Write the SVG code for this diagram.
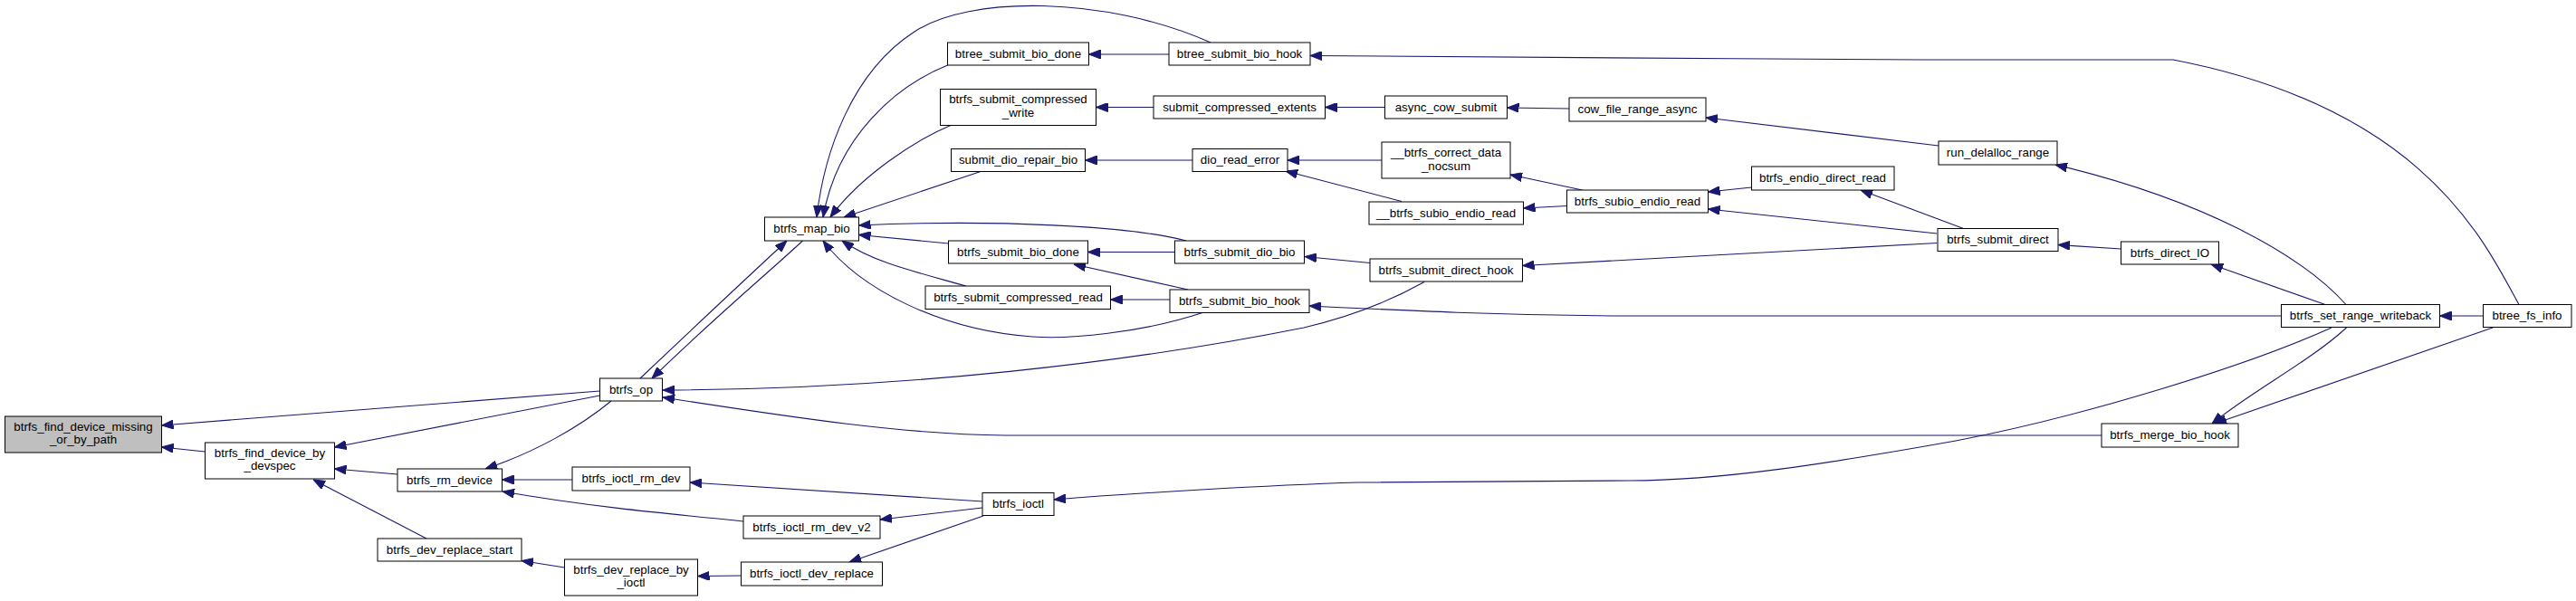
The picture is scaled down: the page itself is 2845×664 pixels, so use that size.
<svg xmlns="http://www.w3.org/2000/svg" width="2845" height="664" viewBox="0 0 2845 664">
<defs>
<style>
.n rect{fill:#ffffff;stroke:#000000;stroke-width:1}
.n.g rect{fill:#bfbfbf}
.n text{font-family:"Liberation Sans",Arial,sans-serif;font-size:13.33px;fill:#000000;text-anchor:middle}
#edges path{fill:none;stroke:#191970;stroke-width:1.1;marker-end:url(#a)}
</style>
<marker id="a" markerUnits="userSpaceOnUse" markerWidth="13" markerHeight="10" viewBox="0 0 13 10" refX="13" refY="5" orient="auto"><path d="M0,0L13,5L0,10z" fill="#191970" stroke="#191970" stroke-width="1"/></marker>
</defs>
<rect width="2845" height="664" fill="#ffffff"/>
<g id="edges">
<path d="M662.5,432 L178.5,470"/>
<path d="M226.5,499 L178.5,494"/>
<path d="M662.5,437 L369.5,494"/>
<path d="M439,524 L369.5,518"/>
<path d="M471,595 L346,530"/>
<path d="M675,443 C640,472 590,500 536,518"/>
<path d="M632,530 L554.5,530"/>
<path d="M821,576 C720,566 640,558 555,543"/>
<path d="M623.5,627 L576,619.5"/>
<path d="M1085,554 L762,533"/>
<path d="M1085,561 L972,574"/>
<path d="M1086,570 L938,621"/>
<path d="M818.5,636 L770.5,636.5"/>
<path d="M2575,362 C2480,405 2300,460 2160,487 C2020,512 1900,531 1800,531 L1500,533 C1400,536 1250,545 1164,552"/>
<path d="M2321,481 L1110,481 C1000,480 880,462 732,439"/>
<path d="M1573,311.5 C1540,330 1500,348 1440,362 C1250,400 1000,430 732,431"/>
<path d="M707,418 C745,382 800,330 869,266"/>
<path d="M886.5,266 C850,300 790,350 720,418"/>
<path d="M1337,47 C1220,-5 1070,-5 1010,35 C940,80 910,170 902,240"/>
<path d="M1046.5,72 C990,95 925,150 909,240"/>
<path d="M1051,138 C1010,155 950,195 917,240"/>
<path d="M1083,189.5 L932,240"/>
<path d="M1310,266 C1250,250 1100,242 948.5,249"/>
<path d="M1047.5,269 L948.5,259.5"/>
<path d="M1067,316 C1010,300 965,290 930,266"/>
<path d="M1328,345.5 C1260,368 1180,375 1140,372 C1040,365 950,320 909,266"/>
<path d="M1291,60 L1202.5,60"/>
<path d="M1274,118.5 L1210.5,118.5"/>
<path d="M1317,177 L1198.5,177"/>
<path d="M1297.5,278.5 L1201.5,278.5"/>
<path d="M1312,320 L1186,292"/>
<path d="M1292,331 L1226.5,331"/>
<path d="M1529.5,118.5 L1463.5,118.5"/>
<path d="M1733,120 L1664.5,119"/>
<path d="M2141,161 L1884,130"/>
<path d="M1526,177 L1422,177"/>
<path d="M1548,222.5 L1420,189"/>
<path d="M1747.5,210 L1668,193"/>
<path d="M1730.5,227.5 L1682.5,230"/>
<path d="M1934.5,207 L1886.5,212"/>
<path d="M2139,258 L1886.5,231"/>
<path d="M2168.5,252.5 L2055,210"/>
<path d="M2139,268.5 L1681.5,293.5"/>
<path d="M1513,290.5 L1441,283.5"/>
<path d="M2342.5,275 L2273,270.5"/>
<path d="M2568,336.5 L2442,292"/>
<path d="M2591,336.5 C2540,280 2430,220 2270,182"/>
<path d="M2782,336.5 C2745,270 2680,120 2400,66 L2125,66 C1900,65 1700,63 1447,61.5"/>
<path d="M2742.5,349 L2694.5,349"/>
<path d="M2519.5,349 L1784,349 C1650,348 1550,343 1446,338"/>
<path d="M2591.5,362 C2550,400 2490,430 2443,468"/>
<path d="M2753,362 L2446,468"/>
</g>
<g id="n0" class="n g"><rect x="5.5" y="460" width="173" height="40"/><text x="92" y="476">btrfs_find_device_missing</text><text x="92" y="490">_or_by_path</text></g>
<g id="n1" class="n"><rect x="226.5" y="489" width="143" height="40"/><text x="298" y="505">btrfs_find_device_by</text><text x="298" y="519">_devspec</text></g>
<g id="n2" class="n"><rect x="439" y="518" width="115.5" height="25"/><text x="496.5" y="534.5">btrfs_rm_device</text></g>
<g id="n3" class="n"><rect x="417" y="595" width="159" height="25"/><text x="496.5" y="611.5">btrfs_dev_replace_start</text></g>
<g id="n4" class="n"><rect x="662.5" y="418" width="69" height="25"/><text x="697" y="434.5">btrfs_op</text></g>
<g id="n5" class="n"><rect x="632" y="516" width="130" height="26"/><text x="697" y="533">btrfs_ioctl_rm_dev</text></g>
<g id="n6" class="n"><rect x="623.5" y="618" width="147" height="40"/><text x="697" y="634">btrfs_dev_replace_by</text><text x="697" y="648">_ioctl</text></g>
<g id="n7" class="n"><rect x="1085" y="544.5" width="79" height="25"/><text x="1124.5" y="561">btrfs_ioctl</text></g>
<g id="n8" class="n"><rect x="821" y="570" width="151" height="25"/><text x="896.5" y="586.5">btrfs_ioctl_rm_dev_v2</text></g>
<g id="n9" class="n"><rect x="818.5" y="621" width="156" height="26"/><text x="896.5" y="638">btrfs_ioctl_dev_replace</text></g>
<g id="n10" class="n"><rect x="844.5" y="240" width="104" height="26"/><text x="896.5" y="257">btrfs_map_bio</text></g>
<g id="n11" class="n"><rect x="1046.5" y="47" width="156" height="25"/><text x="1124.5" y="63.5">btree_submit_bio_done</text></g>
<g id="n12" class="n"><rect x="1291" y="47" width="156" height="25"/><text x="1369" y="63.5">btree_submit_bio_hook</text></g>
<g id="n13" class="n"><rect x="1038.5" y="98.5" width="172" height="40"/><text x="1124.5" y="114">btrfs_submit_compressed</text><text x="1124.5" y="128.5">_write</text></g>
<g id="n14" class="n"><rect x="1274" y="106" width="189.5" height="25"/><text x="1369" y="122.5">submit_compressed_extents</text></g>
<g id="n15" class="n"><rect x="1050.5" y="164.5" width="148" height="25"/><text x="1124.5" y="181">submit_dio_repair_bio</text></g>
<g id="n16" class="n"><rect x="1317" y="164.5" width="105" height="25"/><text x="1369.5" y="181">dio_read_error</text></g>
<g id="n17" class="n"><rect x="1047.5" y="266" width="154" height="25"/><text x="1124.5" y="282.5">btrfs_submit_bio_done</text></g>
<g id="n18" class="n"><rect x="1297.5" y="266" width="143" height="25"/><text x="1369" y="282.5">btrfs_submit_dio_bio</text></g>
<g id="n19" class="n"><rect x="1022" y="316" width="204.5" height="25.5"/><text x="1124.5" y="333">btrfs_submit_compressed_read</text></g>
<g id="n20" class="n"><rect x="1292" y="320" width="154" height="25.5"/><text x="1369" y="337">btrfs_submit_bio_hook</text></g>
<g id="n21" class="n"><rect x="1529.5" y="106" width="135" height="25"/><text x="1597" y="122.5">async_cow_submit</text></g>
<g id="n22" class="n"><rect x="1733" y="108" width="151" height="26"/><text x="1808.5" y="125">cow_file_range_async</text></g>
<g id="n23" class="n"><rect x="1526" y="157" width="142" height="40"/><text x="1597" y="173">__btrfs_correct_data</text><text x="1597" y="187.5">_nocsum</text></g>
<g id="n24" class="n"><rect x="1512" y="223" width="170.5" height="25"/><text x="1597" y="239.5">__btrfs_subio_endio_read</text></g>
<g id="n25" class="n"><rect x="1730.5" y="210" width="156" height="25"/><text x="1808.5" y="226.5">btrfs_subio_endio_read</text></g>
<g id="n26" class="n"><rect x="1934.5" y="184" width="157.5" height="26"/><text x="2013" y="201">btrfs_endio_direct_read</text></g>
<g id="n27" class="n"><rect x="1513" y="286" width="168.5" height="25"/><text x="1597" y="302.5">btrfs_submit_direct_hook</text></g>
<g id="n28" class="n"><rect x="2141" y="156" width="131" height="26"/><text x="2206.5" y="173">run_delalloc_range</text></g>
<g id="n29" class="n"><rect x="2140" y="252.5" width="133" height="25"/><text x="2206.5" y="269">btrfs_submit_direct</text></g>
<g id="n30" class="n"><rect x="2342.5" y="267" width="108" height="25"/><text x="2396.5" y="283.5">btrfs_direct_IO</text></g>
<g id="n31" class="n"><rect x="2519.5" y="336.5" width="175" height="25"/><text x="2607" y="353">btrfs_set_range_writeback</text></g>
<g id="n32" class="n"><rect x="2742.5" y="336.5" width="97.5" height="25"/><text x="2791" y="353">btree_fs_info</text></g>
<g id="n33" class="n"><rect x="2321" y="468" width="151" height="26"/><text x="2396.5" y="485">btrfs_merge_bio_hook</text></g>
</svg>
